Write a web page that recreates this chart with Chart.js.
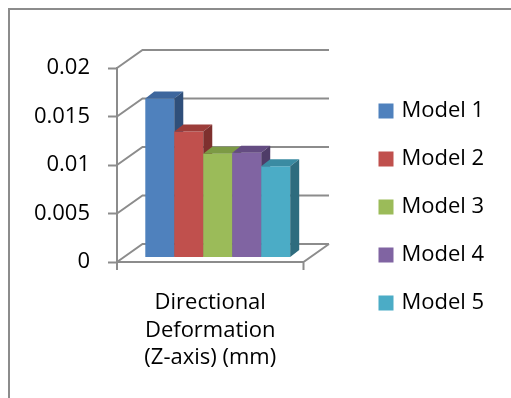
<!DOCTYPE html>
<html>
<head>
<meta charset="utf-8">
<script src="https://cdn.jsdelivr.net/npm/chart.js@4/dist/chart.umd.min.js"></script>
<style>
  html, body { margin: 0; padding: 0; background: #fff; }
  canvas { display: block; }
</style>
</head>
<body>
<canvas id="myChart" width="511" height="398"></canvas>
<script>
const categories = [['Directional', 'Deformation', '(Z-axis) (mm)']];
const models = ['Model 1', 'Model 2', 'Model 3', 'Model 4', 'Model 5'];
const deformation = [0.0164, 0.0130, 0.0107, 0.0108, 0.0094];
const yTicks = [0, 0.005, 0.01, 0.015, 0.02];
const yTickLabels = ['0', '0.005', '0.01', '0.015', '0.02'];

const frontColors = ['#4F81BD', '#C0504D', '#9BBB59', '#8064A2', '#4BACC6'];
const topColors = ['#3D669D', '#9C3D3A', '#7C9A45', '#644C82', '#3A8BA2'];
const sideColors = ['#2F4F7A', '#7E302E', '#62793A', '#4F3C68', '#2E6C7E'];
const lineGray = '#8c8c8c';
const fontFamily = "'Open Sans', sans-serif";

// 3d look, excel style
const wallDx = 25.5, wallDy = -18;
const barDx = 9, barDy = -7;
const shiftX = 7.5, shiftY = -4.5;

const fake3d = {
    id: 'fake3d',
    beforeDraw(chart) {
        const ctx = chart.ctx;
        ctx.save();
        ctx.strokeStyle = lineGray;
        ctx.lineWidth = 2;
        ctx.strokeRect(9, 9, 700, 600);
        ctx.restore();
    },
    beforeDatasetsDraw(chart) {
        const {ctx, chartArea: a, scales: {y}} = chart;
        ctx.save();
        ctx.strokeStyle = lineGray;
        ctx.lineWidth = 2;
        ctx.beginPath();
        yTicks.forEach(v => {
            const py = y.getPixelForValue(v);
            ctx.moveTo(a.left, py);
            ctx.lineTo(a.left + wallDx, py + wallDy);
            ctx.lineTo(a.right + wallDx, py + wallDy);
        });
        // floor
        ctx.moveTo(a.left, a.bottom);
        ctx.lineTo(a.right, a.bottom);
        ctx.lineTo(a.right + wallDx, a.bottom + wallDy);
        ctx.moveTo(a.left, a.bottom);
        ctx.lineTo(a.left, a.bottom + 8);
        ctx.moveTo(a.right, a.bottom);
        ctx.lineTo(a.right, a.bottom + 8);
        ctx.stroke();

        ctx.translate(shiftX, shiftY);
        chart.data.datasets.forEach((ds, i) => {
            chart.getDatasetMeta(i).data.forEach(bar => {
                bar.draw(ctx);
                const {x, y: top, base, width} = bar.getProps(['x', 'y', 'base', 'width']);
                const l = x - width / 2, r = x + width / 2;
                ctx.fillStyle = topColors[i];
                ctx.beginPath();
                ctx.moveTo(l, top);
                ctx.lineTo(l + barDx, top + barDy);
                ctx.lineTo(r + barDx, top + barDy);
                ctx.lineTo(r, top);
                ctx.closePath();
                ctx.fill();
                ctx.fillStyle = sideColors[i];
                ctx.beginPath();
                ctx.moveTo(r, top);
                ctx.lineTo(r + barDx, top + barDy);
                ctx.lineTo(r + barDx, base + barDy);
                ctx.lineTo(r, base);
                ctx.closePath();
                ctx.fill();
            });
        });
        ctx.restore();
        return false;
    },
    afterDraw(chart) {
        // legend to the right, spaced like the excel one
        const {ctx, chartArea: a} = chart;
        const bx = a.right + 75, y0 = 111, step = 48;
        ctx.save();
        ctx.font = '22px ' + fontFamily;
        ctx.textBaseline = 'middle';
        ctx.textAlign = 'left';
        chart.data.datasets.forEach((ds, i) => {
            const cy = y0 + i * step;
            ctx.fillStyle = ds.backgroundColor;
            ctx.fillRect(bx, cy - 7.5, 15, 15);
            ctx.fillStyle = '#000';
            ctx.fillText(ds.label, bx + 23, cy);
        });
        ctx.restore();
    }
};

Chart.defaults.font.family = fontFamily;
Chart.defaults.font.size = 22;
Chart.defaults.color = '#000';

const ctx = document.getElementById('myChart').getContext('2d');

const myChart = new Chart(ctx, {
    type: 'bar',
    data: {
        labels: categories,
        datasets: models.map((m, i) => ({
            label: m,
            data: [deformation[i]],
            backgroundColor: frontColors[i],
            borderWidth: 0
        }))
    },
    options: {
        responsive: false,
        maintainAspectRatio: false,
        animation: false,
        categoryPercentage: 0.777,
        barPercentage: 1,
        layout: {
            padding: {top: 68, bottom: 0, left: 0, right: 207.5}
        },
        scales: {
            y: {
                min: 0,
                max: 0.02,
                afterBuildTicks: s => { s.ticks = yTicks.map(v => ({value: v})); },
                afterFit: s => { s.width = 117; },
                ticks: {padding: 18, color: '#000', callback: (v, i) => yTickLabels[i]},
                grid: {drawOnChartArea: false, tickLength: 9, tickWidth: 2, tickColor: lineGray, color: lineGray},
                border: {display: true, color: lineGray, width: 2}
            },
            x: {
                afterFit: s => { s.height = 136; },
                ticks: {padding: 27, color: '#000', font: {size: 22, lineHeight: 1.25}},
                grid: {display: false, drawTicks: false},
                border: {display: false}
            }
        },
        plugins: {
            legend: {display: false},
            tooltip: {enabled: false}
        }
    },
    plugins: [fake3d]
});
</script>
</body>
</html>
